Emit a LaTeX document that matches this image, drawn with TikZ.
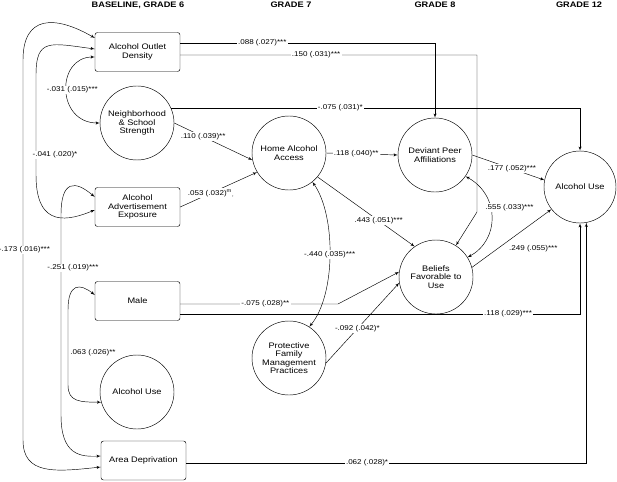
\documentclass[tikz,border=0pt]{standalone}
\usepackage{fontspec}
\setmainfont[FakeStretch=1.15]{Liberation Sans}
\usetikzlibrary{arrows}

\begin{document}
\begin{tikzpicture}[
      x=1pt, y=-1pt,
      line width=0.45pt,
      block/.style={rectangle, draw, rounded corners=2.5pt, minimum width=85pt, minimum height=39pt, align=center, font=\fontsize{8}{8.5}\selectfont},
      latent/.style={circle, draw, minimum size=74pt, inner sep=0pt, align=center, font=\fontsize{8}{8.5}\selectfont},
      head/.style={font=\fontsize{8}{9}\selectfont\bfseries},
      lbl/.style={fill=white, inner sep=1.2pt, font=\fontsize{7}{8}\selectfont},
      line/.style={draw, -latex'},
      cov/.style={draw, latex'-latex'}
    ]

    \useasboundingbox (0,0) rectangle (617,481);

    % Headings
    \node[head] (h6) at (138,5) {BASELINE, GRADE 6};
    \node[head] (h7) at (291,5) {GRADE 7};
    \node[head] (h8) at (435,5) {GRADE 8};
    \node[head] (h12) at (579,5) {GRADE 12};

    % Nodes
    \node[block] (outlet) at (137.5,52) {Alcohol Outlet\\Density};
    \node[latent] (neigh) at (137,123) {Neighborhood\\\& School\\Strength};
    \node[block] (advert) at (137.5,207) {Alcohol\\Advertisement\\Exposure};
    \node[block] (male) at (137.5,301) {Male};
    \node[latent] (use6) at (137,392) {Alcohol Use};
    \node[block] (areadep) at (143.5,460.5) {Area Deprivation};
    \node[latent] (home) at (289,153) {Home Alcohol\\Access};
    \node[latent] (pfmp) at (289,358) {Protective\\Family\\Management\\Practices};
    \node[latent] (deviant) at (435,155) {Deviant Peer\\Affiliations};
    \node[latent] (beliefs) at (436,277) {Beliefs\\Favorable to\\Use};
    \node[latent, minimum size=72pt] (use12) at (580,187) {Alcohol Use};

    \coordinate (obend) at (477,212);
    \coordinate (mbend) at (338,304);

    % Connections
    \draw[line] ([yshift=9pt]outlet.east) -| node[lbl, pos=0.161] {.088 (.027)***} (deviant.north);
    \draw[line] ([yshift=-3pt]outlet.east) -| node[lbl, pos=0.229] {.150 (.031)***} (obend) -- (beliefs);
    \draw[line] (neigh.24) -| node[lbl, pos=0.207] {-.075 (.031)*} (use12.north);
    \draw[line] (neigh.east) -- node[lbl, pos=0.37] {.110 (.039)**} (home.191);
    \draw[line] (advert.east) -- node[lbl, pos=0.4] {.053 (.032)\textsuperscript{m}\textsubscript{,}} (home.211);
    \draw[line] (home.east) -- node[lbl, pos=0.42] {.118 (.040)**} (deviant.west);
    \draw[line] (home.-40) -- node[lbl, pos=0.63] {.443 (.051)***} (beliefs.125);
    \draw[line] (deviant.east) -- node[lbl, pos=0.55] {.177 (.052)***} (use12.169);
    \draw[cov] (deviant.-35) .. controls (500,195) and (500,240) .. node[lbl, pos=0.4, xshift=19pt] {.555 (.033)***} (beliefs.32);
    \draw[line] (beliefs.15) -- node[lbl, pos=0.5, anchor=west, xshift=-4pt, yshift=-10pt] {.249 (.055)***} (use12.218);
    \draw[cov] (home.-51) .. controls (336,215) and (336,295) .. node[lbl, pos=0.5] {-.440 (.035)***} (pfmp.57);
    \draw[line] ([yshift=-3pt]male.east) -- node[lbl, pos=0.54] {-.075 (.028)**} (mbend) -- (beliefs.172);
    \draw[line] ([yshift=-13pt]male.east) -| node[lbl, pos=0.41] {.118 (.029)***} (use12.south);
    \draw[line] (pfmp.-8) -- node[lbl, pos=0.43] {-.092 (.042)*} (beliefs.189);
    \draw[line] ([yshift=-2.5pt]areadep.east) -| node[lbl, pos=0.226] {.062 (.028)*} (use12.-80);

    % Covariances
    \draw[cov] ([yshift=-5pt]outlet.west) .. controls (56,57) and (56,123) .. node[lbl, pos=0.5, xshift=6pt] {-.031 (.015)***} (neigh.west);
    \draw[cov] ([yshift=3pt]outlet.west) .. controls (50,43) and (36,38) .. (36,75) -- node[lbl, pos=0.8, xshift=19pt] {-.041 (.020)*} (36,175) .. controls (36,230) and (70,220) .. ([yshift=-3pt]advert.west);
    \draw[cov] ([yshift=14pt]outlet.west) .. controls (55,15) and (23,15) .. (23,60) -- node[lbl, pos=0.5, xshift=1.5pt] {-.173 (.016)***} (23,440) .. controls (23,475) and (55,472) .. ([yshift=-6.5pt]areadep.west);
    \draw[cov] ([yshift=10pt]advert.west) .. controls (75,180) and (61,180) .. (61,215) -- node[lbl, pos=0.265, xshift=12pt] {-.251 (.019)***} (61,415) .. controls (61,455) and (80,457) .. ([yshift=4.5pt]areadep.west);
    \draw[cov] ([yshift=6pt]male.west) .. controls (80,283) and (68,283) .. (68,310) -- node[lbl, pos=0.57, anchor=west, xshift=1pt] {.063 (.026)**} (68,385) .. controls (68,402) and (80,402) .. (use6.196);
  \end{tikzpicture}
\end{document}
